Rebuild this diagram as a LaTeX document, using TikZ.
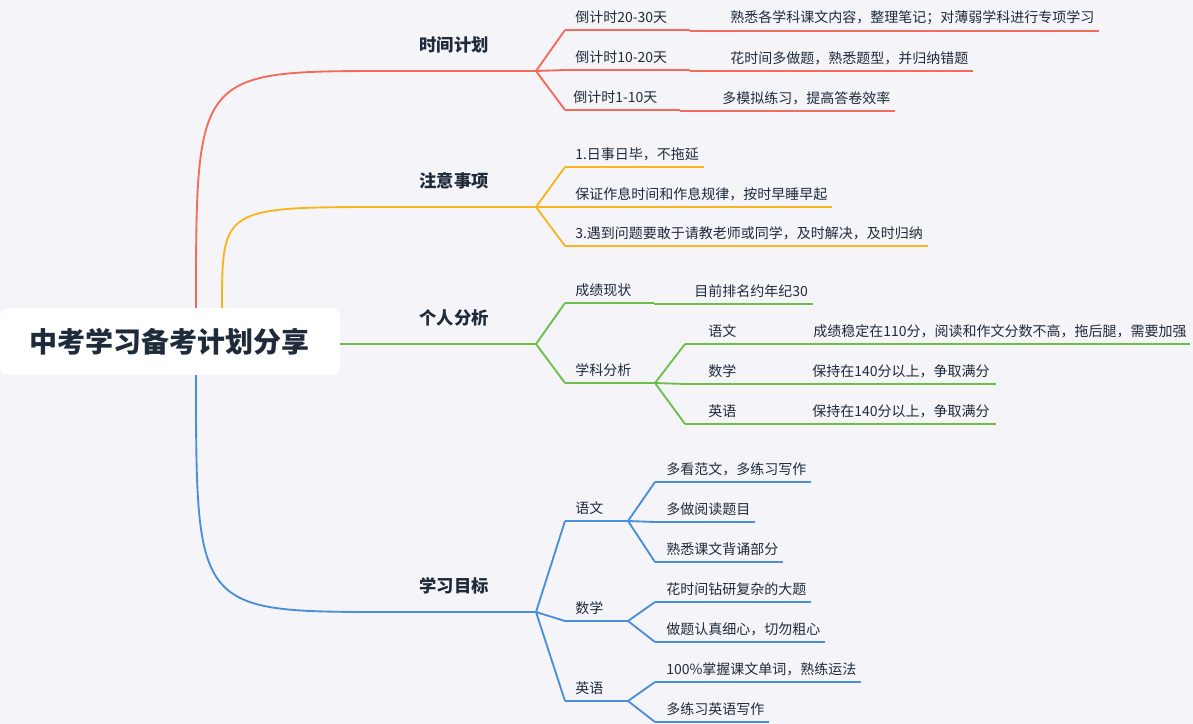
\documentclass[tikz,border=0pt]{standalone}
\usepackage{fontspec}
\setmainfont{Noto Sans CJK SC}
\definecolor{bg}{HTML}{F5F5F9}
\definecolor{cr}{HTML}{F36C5A}
\definecolor{co}{HTML}{F8B51E}
\definecolor{cg}{HTML}{6CC04A}
\definecolor{cb}{HTML}{4A8FDB}
\definecolor{tx}{HTML}{1F2A3A}
\tikzset{ln/.style={line width=1.4pt},
 lbl/.style={font=\fontsize{10.5}{12}\selectfont,text=tx,inner sep=0pt},
 br/.style={font=\fontsize{13}{15}\selectfont\bfseries,text=tx,inner sep=0pt}}
\newcommand\mmitem[7]{%
 \coordinate (#1-a) at (#2,#4); \coordinate (#1-b) at (#3,#4);
 \draw[ln,#7] (#1-a) -- (#1-b);
 \node[lbl,anchor=west] (#1-t) at (#5,#4-13) {#6};}
\newcommand\curv[3]{\draw[ln,#3] (#1) .. controls ($(#1)!0.5!(#2)$ |- #1) and ($(#1)!0.5!(#2)$ |- #2) .. (#2);}
\usetikzlibrary{calc}
\begin{document}
\begin{tikzpicture}[x=0.75pt,y=-0.75pt]
\fill[bg] (0,0) rectangle (1193,724);
\useasboundingbox (0,0) rectangle (1193,724);
% root
\node[fill=white,rounded corners=6pt,minimum width=255pt,minimum height=50pt,font=\fontsize{21}{24}\selectfont\bfseries,text=tx] (root) at (170,341.5) {中考学习备考计划分享};
\coordinate (r1) at (196,308); \coordinate (r2) at (222,308); \coordinate (r3) at (340,344); \coordinate (r4) at (196,375);
% red
\coordinate (A0) at (390,71); \coordinate (A1) at (536,71);
\draw[ln,cr] (r1) .. controls (196,71) .. (A0) -- (A1);
\node[br] (A) at (454,45) {时间计划};
\mmitem{a1}{565}{690}{30}{575}{倒计时20-30天}{cr}
\mmitem{a1l}{690}{1099}{31}{730}{熟悉各学科课文内容，整理笔记；对薄弱学科进行专项学习}{cr}
\mmitem{a2}{565}{690}{70}{575}{倒计时10-20天}{cr}
\mmitem{a2l}{690}{973}{71}{730}{花时间多做题，熟悉题型，并归纳错题}{cr}
\mmitem{a3}{565}{680}{110}{573}{倒计时1-10天}{cr}
\mmitem{a3l}{680}{895}{111}{722}{多模拟练习，提高答卷效率}{cr}
\curv{A1}{a1-a}{cr}\curv{A1}{a2-a}{cr}\curv{A1}{a3-a}{cr}
% orange
\coordinate (B0) at (390,207); \coordinate (B1) at (536,207);
\draw[ln,co] (r2) .. controls (222,207) .. (B0) -- (B1);
\node[br] (B) at (454,181) {注意事项};
\mmitem{b1}{565}{704}{167}{575}{1.日事日毕，不拖延}{co}
\mmitem{b2}{565}{832}{207}{575}{保证作息时间和作息规律，按时早睡早起}{co}
\mmitem{b3}{565}{928}{246}{575}{3.遇到问题要敢于请教老师或同学，及时解决，及时归纳}{co}
\curv{B1}{b1-a}{co}\curv{B1}{b2-a}{co}\curv{B1}{b3-a}{co}
% green
\coordinate (C1) at (536,344);
\draw[ln,cg] (r3) -- (C1);
\node[br] (C) at (454,318) {个人分析};
\mmitem{c1}{565}{654}{303}{575}{成绩现状}{cg}
\mmitem{c1l}{654}{813}{304}{694}{目前排名约年纪30}{cg}
\mmitem{c2}{565}{655}{383}{575}{学科分析}{cg}
\curv{C1}{c1-a}{cg}\curv{C1}{c2-a}{cg}
\mmitem{d1}{685}{773}{344}{708}{语文}{cg}
\mmitem{d1l}{773}{1190}{344}{813}{成绩稳定在110分，阅读和作文分数不高，拖后腿，需要加强}{cg}
\mmitem{d2}{685}{773}{384}{708}{数学}{cg}
\mmitem{d2l}{773}{996}{384}{812}{保持在140分以上，争取满分}{cg}
\mmitem{d3}{685}{773}{424}{708}{英语}{cg}
\mmitem{d3l}{773}{996}{424}{812}{保持在140分以上，争取满分}{cg}
\curv{c2-b}{d1-a}{cg}\curv{c2-b}{d2-a}{cg}\curv{c2-b}{d3-a}{cg}
% blue
\coordinate (D0) at (390,612); \coordinate (D1) at (536,612);
\draw[ln,cb] (r4) .. controls (196,612) .. (D0) -- (D1);
\node[br] (D) at (454,586) {学习目标};
\mmitem{e1}{565}{628}{521}{575}{语文}{cb}
\mmitem{e2}{565}{628}{621}{575}{数学}{cb}
\mmitem{e3}{565}{628}{701}{575}{英语}{cb}
\curv{D1}{e1-a}{cb}\curv{D1}{e2-a}{cb}\curv{D1}{e3-a}{cb}
\mmitem{f1}{655}{811}{482}{666}{多看范文，多练习写作}{cb}
\mmitem{f2}{655}{755}{522}{666}{多做阅读题目}{cb}
\mmitem{f3}{655}{783}{562}{666}{熟悉课文背诵部分}{cb}
\mmitem{f4}{655}{811}{602}{666}{花时间钻研复杂的大题}{cb}
\mmitem{f5}{655}{825}{642}{666}{做题认真细心，切勿粗心}{cb}
\mmitem{f6}{655}{861}{682}{666}{100\%掌握课文单词，熟练运法}{cb}
\mmitem{f7}{655}{769}{722}{666}{多练习英语写作}{cb}
\curv{e1-b}{f1-a}{cb}\curv{e1-b}{f2-a}{cb}\curv{e1-b}{f3-a}{cb}
\curv{e2-b}{f4-a}{cb}\curv{e2-b}{f5-a}{cb}
\curv{e3-b}{f6-a}{cb}\curv{e3-b}{f7-a}{cb}
\end{tikzpicture}
\end{document}
